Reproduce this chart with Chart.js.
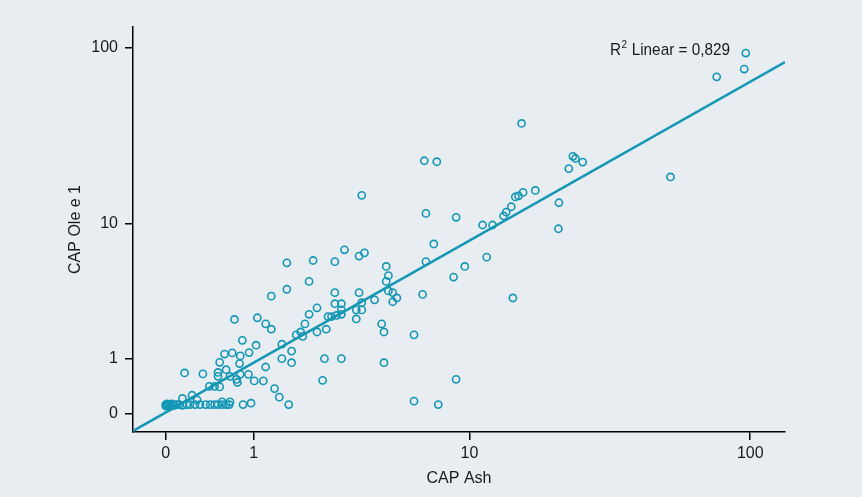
<!DOCTYPE html>
<html>
<head>
<meta charset="utf-8">
<script src="https://cdn.jsdelivr.net/npm/chart.js@4.4.0/dist/chart.umd.min.js"></script>
<style>
  html, body { margin: 0; padding: 0; background: #e8edf1; }
  #wrap { width: 862px; height: 497px; }
</style>
</head>
<body>
<div id="wrap"><canvas id="chart" width="862" height="497"></canvas></div>
<script>
// CAP values (x = Ash, y = Ole e 1)
const ashCap = [
  96.5, 95.3, 76.5, 15.6, 6.7, 7.5, 3.7, 23.9, 24.4, 25.9, 23.1, 52.8, 17.5, 15.8, 15.2, 14.8, 14.3, 13.7, 13.4, 12.2, 11.2, 8.9, 6.8, 21.3, 21.2,
  7.3, 6.8, 4.7, 4.8, 4.7, 4.8, 5.0, 5.2, 5.0, 6.6, 8.7, 9.6, 11.6, 14.5, 4.5, 4.6, 6.1, 4.6, 8.9, 6.1, 7.6,
  1.6, 2.2, 3.1, 2.8, 3.6, 3.8, 2.1, 1.6, 1.3, 2.8, 3.6, 4.2, 2.8, 3.0, 3.7, 2.3, 3.0, 3.5, 3.7, 1.06, 1.2, 1.3,
  2.1, 2.6, 2.7, 2.85, 3.0, 3.5, 2.0, 1.8, 1.9, 1.95, 2.3, 2.55, 1.5, 1.04, 1.7, 1.5, 1.7, 1.2, 2.5, 3.0,
  1.16, 2.45, 1.36, 1.45, 1.64,
  0.72, 0.83, 0.59, 0.69, 0.8, 0.93, 0.53, 0.79, 0.16, 0.34, 0.51, 0.61, 0.51, 0.66, 0.8, 0.92, 0.75, 0.76, 1.01,
  0.41, 0.47, 0.53, 0.23, 0.14, 0.28, 0.56, 0.66, 0.84, 0.96,
  0, 0, 0.01, 0.02, 0.03, 0.04, 0.05, 0.06, 0.07, 0.09, 0.11, 0.14, 0.18, 0.21, 0.26, 0.31, 0.37, 0.42, 0.47, 0.51, 0.56, 0.61, 0.65
];
const oleCap = [
  93.6, 76.3, 69.1, 37.9, 23.3, 23.0, 14.7, 24.7, 24.0, 22.9, 21.0, 18.8, 15.7, 15.3, 14.6, 14.4, 12.6, 11.7, 11.1, 9.8, 9.8, 10.9, 11.5, 13.3, 9.3,
  7.5, 5.8, 5.4, 4.7, 4.3, 3.7, 3.6, 3.3, 3.1, 3.5, 4.6, 5.4, 6.2, 3.3, 2.1, 1.8, 1.7, 0.9, 0.54, 0.17, 0.12,
  5.7, 5.9, 6.9, 5.8, 6.3, 6.6, 4.3, 3.8, 3.4, 3.6, 3.6, 3.2, 3.0, 3.0, 3.05, 2.8, 2.7, 2.7, 2.7, 2.35, 2.1, 1.9,
  2.5, 2.4, 2.4, 2.45, 2.5, 2.3, 2.1, 1.7, 1.8, 1.65, 1.8, 1.9, 1.4, 1.37, 1.2, 1.0, 0.9, 0.8, 1.0, 1.0,
  0.51, 0.52, 0.37, 0.23, 0.12,
  2.28, 1.52, 1.12, 1.15, 1.07, 1.16, 0.91, 0.88, 0.67, 0.65, 0.68, 0.74, 0.6, 0.6, 0.64, 0.64, 0.54, 0.48, 0.51,
  0.41, 0.41, 0.4, 0.26, 0.21, 0.19, 0.16, 0.16, 0.12, 0.14,
  0.12, 0.1, 0.13, 0.11, 0.12, 0.1, 0.13, 0.12, 0.11, 0.12, 0.12, 0.11, 0.12, 0.12, 0.12, 0.12, 0.12, 0.12, 0.12, 0.12, 0.12, 0.12, 0.12
];
const tickLabels = [0, 1, 10, 100];
// linear fit in log10(x+1) space, as drawn
const fitIntercept = 0.0062;
const fitSlope = 0.9043;
const r2Value = "0,829";

const teal = "#1397b4";
const fontFamily = "'Liberation Sans Narrow', 'Liberation Sans', sans-serif";

function toLog(v) { return Math.log10(v + 1); }

const xMin = -0.1125, xMax = 2.1235;
const yMin = -0.101, yMax = 2.1186;

let points = ashCap.map((a, i) => ({ x: toLog(a), y: toLog(oleCap[i]) }));
let fitLine = [xMin, xMax].map(x => ({ x: x, y: fitIntercept + fitSlope * x }));

// R² label, squeezed a bit to look like the condensed face of the original
const r2Label = {
  id: "r2Label",
  afterDraw(chart) {
    const ctx = chart.ctx;
    ctx.save();
    ctx.translate(610, 55);
    ctx.scale(0.9, 1);
    ctx.fillStyle = "#1a1a1a";
    ctx.textBaseline = "alphabetic";
    let x = 0;
    ctx.font = "17px " + fontFamily;
    ctx.fillText("R", x, 0);
    x += ctx.measureText("R").width;
    ctx.font = "11px " + fontFamily;
    ctx.fillText("2", x + 0.5, -7);
    x += ctx.measureText("2").width + 1;
    ctx.font = "17px " + fontFamily;
    ctx.fillText(" Linear = " + r2Value, x, 0);
    ctx.restore();
  }
};

function logAxis(min, max, title, horizontal) {
  return {
    type: "linear",
    min: min,
    max: max,
    afterBuildTicks: (s) => { s.ticks = tickLabels.map(v => ({ value: toLog(v) })); },
    afterFit: (s) => { if (horizontal) s.height = 65; else s.width = 133; },
    ticks: {
      callback: (val, i) => tickLabels[i],
      color: "#1a1a1a",
      font: { size: 16, family: fontFamily },
      padding: horizontal ? 4 : 7,
      maxRotation: 0
    },
    grid: { drawOnChartArea: false, drawTicks: true, tickLength: 8, color: "#000", lineWidth: 1.5 },
    border: { display: true, color: "#000", width: 1.5 },
    title: {
      display: true,
      text: title,
      color: "#1a1a1a",
      font: { size: 16, family: fontFamily },
      padding: horizontal ? { top: 0, bottom: 9 } : { top: 66, bottom: 0 }
    }
  };
}

new Chart(document.getElementById("chart"), {
  type: "scatter",
  data: {
    datasets: [
      {
        label: "Ole e 1 vs Ash",
        data: points,
        pointStyle: "circle",
        pointRadius: 3.6,
        pointBorderWidth: 1.6,
        pointBorderColor: teal,
        pointBackgroundColor: "rgba(0,0,0,0)",
        showLine: false
      },
      {
        label: "Linear",
        type: "line",
        data: fitLine,
        borderColor: teal,
        borderWidth: 2.5,
        pointRadius: 0,
        fill: false
      }
    ]
  },
  options: {
    responsive: false,
    animation: false,
    devicePixelRatio: 1,
    layout: { padding: { top: 27, right: 77, bottom: 0, left: 0 } },
    plugins: { legend: { display: false }, tooltip: { enabled: false } },
    scales: {
      x: logAxis(xMin, xMax, "CAP Ash", true),
      y: logAxis(yMin, yMax, "CAP Ole e 1", false)
    }
  },
  plugins: [r2Label]
});
</script>
</body>
</html>
